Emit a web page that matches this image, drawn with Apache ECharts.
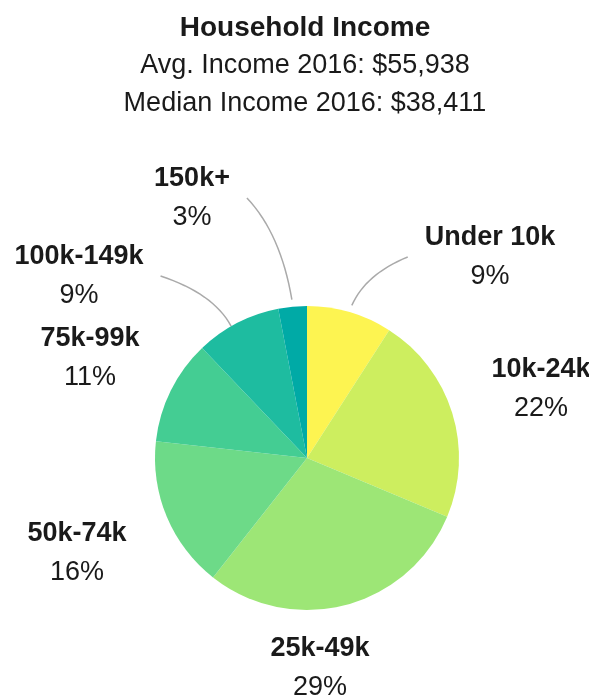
<!DOCTYPE html>
<html>
<head>
<meta charset="utf-8">
<script src="https://cdn.jsdelivr.net/npm/echarts@6/dist/echarts.min.js"></script>
<style>
  html, body { margin: 0; padding: 0; background: #fff; }
  #income { width: 589px; height: 698px; }
</style>
</head>
<body>
<div id="income"></div>
<script>
var titleText = 'Household Income';
var subLines = ['Avg. Income 2016: $55,938', 'Median Income 2016: $38,411'];
var categories = ['Under 10k', '10k-24k', '25k-49k', '50k-74k', '75k-99k', '100k-149k', '150k+'];
var shares = [9, 22, 29, 16, 11, 9, 3];
var withLine = [true, false, false, false, false, true, true];

// where each two-line label block sits (centre), by slice
var labelPos = [[490, 257], [541, 389], [320, 668], [77, 553], [90, 358], [79, 276], [192, 198]];
var colors = ['#fdf451', '#cdee5f', '#9de676', '#6dda88', '#44cd93', '#1ebca0', '#00aaa6'];

function draw_income() {
    var dom = document.getElementById('income');
    var myChart = echarts.init(dom, null, { renderer: 'canvas' });

    var data = categories.map(function (c, i) {
      return {
        name: c,
        value: shares[i],
        itemStyle: { color: colors[i] },
        labelLine: { show: withLine[i] }
      };
    });

    var option = {
  title: {
    text: titleText,
    subtext: subLines.join('\n'),
    left: 300,
    top: 4,
    textAlign: 'center',
    itemGap: 0,
    textStyle: {
      fontFamily: 'Liberation Sans',
      fontSize: 28,
      fontWeight: 'bold',
      color: '#1a1a1a',
      lineHeight: 38
    },
    subtextStyle: {
      fontFamily: 'Liberation Sans',
      fontSize: 27,
      color: '#1a1a1a',
      lineHeight: 38
    }
  },
  series: [
    {
      type: 'pie',
      radius: 152,
      center: [307, 458],
      startAngle: 90,
      silent: true,
      data: data,
      label: {
        show: true,
        position: 'outside',
        overflow: 'none',
        formatter: '{n|{b}}\n{v|{c}%}',
        rich: {
          n: { fontFamily: 'Liberation Sans', fontSize: 27, fontWeight: 'bold', color: '#1a1a1a', lineHeight: 39 },
          v: { fontFamily: 'Liberation Sans', fontSize: 27, color: '#1a1a1a', lineHeight: 39 }
        }
      },
      labelLine: {
        length: 20,
        length2: 10,
        lineStyle: { color: '#aaaaaa', width: 1.5 }
      },
      labelLayout: function (params) {
        var i = params.dataIndex;
        var lp = labelPos[i];
        var out = { x: lp[0], y: lp[1], align: 'center', verticalAlign: 'middle' };
        var pts = params.labelLinePoints;
        if (withLine[i] && pts) {
          var dx = pts[1][0] - pts[0][0], dy = pts[1][1] - pts[0][1];
          var len = Math.sqrt(dx * dx + dy * dy) || 1;
          var s = [pts[0][0] + dx / len * 7, pts[0][1] + dy / len * 7];
          var side = s[0] > lp[0] ? 1 : -1;
          var e = [lp[0] + side * (params.labelRect.width / 2 + 17), lp[1]];
          // gentle arc: quadratic curve sampled into a polyline
          var c = [e[0] + (s[0] - e[0]) * 0.75, e[1] + (s[1] - e[1]) * 0.35];
          var line = [];
          for (var k = 0; k <= 16; k++) {
            var t = k / 16, u = 1 - t;
            line.push([u * u * s[0] + 2 * u * t * c[0] + t * t * e[0],
                       u * u * s[1] + 2 * u * t * c[1] + t * t * e[1]]);
          }
          out.labelLinePoints = line;
        }
        return out;
      }
    }
  ]
};

    myChart.setOption(option);
    window.addEventListener('resize', myChart.resize);
}
draw_income();
</script>
</body>
</html>
